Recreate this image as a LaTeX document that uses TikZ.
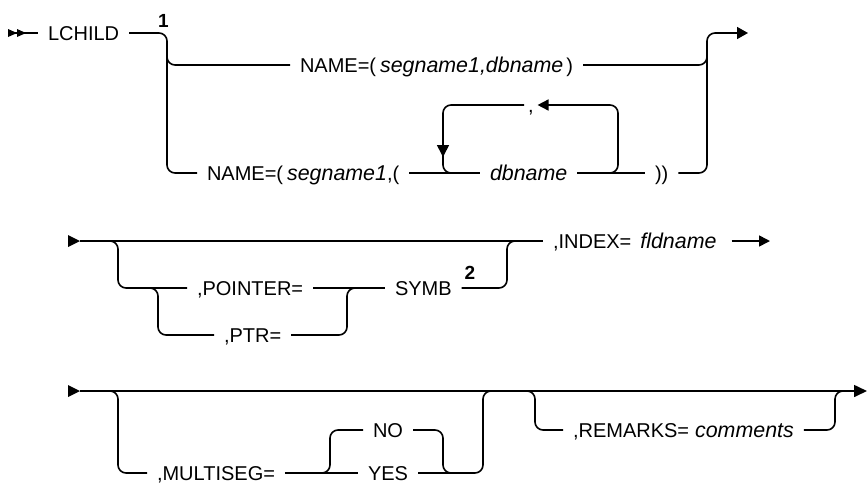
\documentclass[tikz,border=0pt]{standalone}
\usepackage{fontspec}
\setmainfont{Liberation Sans}
\usetikzlibrary{arrows.meta,calc}
\newcommand\myit[1]{{\fontsize{21.4}{24}\selectfont\itshape #1}}
\begin{document}
\begin{tikzpicture}[x=1pt,y=-1pt,
  line width=1.6pt,
  rc/.style={rounded corners=8pt},
  t/.style={inner sep=0pt, outer xsep=10pt, outer ysep=0pt, text height=14pt, text depth=0pt, anchor=west, font=\fontsize{20}{24}\selectfont},
  fnote/.style={inner sep=0pt, font=\fontsize{19}{22}\selectfont\bfseries},
  tipA/.style={-{Triangle[length=11pt,width=12pt]}},
  tipB/.style={-{Triangle[length=11pt,width=11pt]}}]
\useasboundingbox (0,0) rectangle (867,483);

% ---------- row 1 ----------
\coordinate (s1) at (8,33);
\fill (8,29) -- (17,33) -- (8,37) -- cycle;
\fill (17,29) -- (26,33) -- (17,37) -- cycle;
\node[t] (lchild) at (38,33) {LCHILD};
\node[fnote] (f1) at (163.5,20.5) {1};
\node[t] (name1) at (290,65) {NAME=(\hspace{4pt}\myit{segname1,dbname}\hspace{3pt})};
\node[t] (name2) at (197,173) {NAME=(\hspace{4pt}\myit{segname1},(};
\node[t] (db) at (480,173) {\myit{dbname}};
\node[t] (close) at (645,173) {))};
\node[t, outer xsep=4pt] (comma) at (524,105) {,};
\coordinate (e1) at (748,33);

\draw (s1) -- (lchild.west);
\draw[rc] (lchild.east) -- (167,33) -- (167,173) -- (name2.west);
\draw[rc] (167,50) -- (167,65) -- (name1.west);
\draw[rc, tipA] (name1.east) -- (707,65) -- (707,33) -- (e1);
\draw[rc] (close.east) -- (707,173) -- (707,55);
\draw (name2.east) -- (db.west);
\draw (db.east) -- (close.west);
\draw[rc, tipB] (600,173) -- (618,173) -- (618,105) -- (comma.east);
\draw[rc, -{Triangle[length=12pt,width=12pt]}] (comma.west) -- (443,105) -- (443,157);
\draw[rc] (443,150) -- (443,173) -- (462,173);

% ---------- row 2 ----------
\coordinate (s2) at (80,241);
\fill (68,235) -- (80,241) -- (68,247) -- cycle;
\node[t] (index) at (543,241) {,INDEX=\hspace{9pt}\myit{fldname}};
\node[t] (pointer) at (187,288) {,POINTER=};
\node[t] (ptr) at (214,335) {,PTR=};
\node[t] (symb) at (385,288) {SYMB};
\node[fnote] (f2) at (470,273) {2};
\coordinate (e2) at (770,241);

\draw (s2) -- (index.west);
\draw[rc] (s2) -- (118,241) -- (118,288) -- (pointer.west);
\draw[rc] (145,288) -- (158,288) -- (158,335) -- (ptr.west);
\draw[rc] (ptr.east) -- (347,335) -- (347,288) -- (362,288);
\draw (pointer.east) -- (symb.west);
\draw[rc] (symb.east) -- (507,288) -- (507,241) -- (522,241);
\draw[tipB] ($(index.east)+(5,0)$) -- (e2);

% ---------- row 3 ----------
\coordinate (s3) at (80,391);
\fill (68,385) -- (80,391) -- (68,397) -- cycle;
\coordinate (e3) at (867,391);
\node[t] (multi) at (147,473) {,MULTISEG=};
\node[t] (no) at (363,430) {NO};
\node[t] (yes) at (358,473) {YES};
\node[t] (remarks) at (563,430) {,REMARKS=\hspace{6pt}\myit{comments}};

\draw[-{Triangle[length=13pt,width=12pt]}] (s3) -- (e3);
\draw[rc] (s3) -- (118,391) -- (118,473) -- (multi.west);
\draw (multi.east) -- (yes.west);
\draw[rc] (318,473) -- (330,473) -- (330,430) -- (no.west);
\draw[rc] (no.east) -- (443,430) -- (443,473) -- (458,473);
\draw[rc] (yes.east) -- (483,473) -- (483,391) -- (497,391);
\draw[rc] (522,391) -- (535,391) -- (535,430) -- (remarks.west);
\draw[rc] (remarks.east) -- (835,430) -- (835,391) -- (850,391);
\end{tikzpicture}
\end{document}
